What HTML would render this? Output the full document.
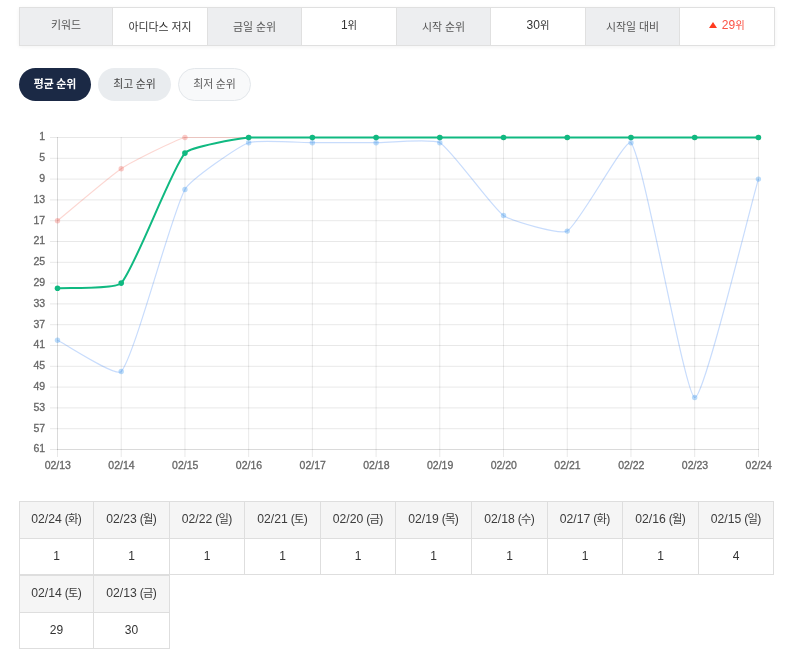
<!DOCTYPE html>
<html lang="ko">
<head>
<meta charset="utf-8">
<title>순위 추적</title>
<style>
*{box-sizing:border-box;margin:0;padding:0}
html,body{width:791px;height:655px;background:#fff;overflow:hidden}
body{font-family:"Liberation Sans","Noto Sans CJK KR",sans-serif;color:#333;position:relative}
.top{position:absolute;left:19px;top:7px;width:756px;height:39px;border:1px solid #e0e0e0;display:flex;box-shadow:0 1px 4px rgba(0,0,0,.05);background:#fff}
.top .c{flex:none;display:flex;align-items:center;justify-content:center;font-size:10.9px;color:#333;border-right:1px solid #e0e0e0;height:37px;white-space:nowrap;line-height:1}
.top .c:last-child{border-right:0}
.top .c span{position:relative;top:0.5px}
.top .c .n{font-size:12px;top:0}
.top .c.num{font-size:10.3px}
.top .c.num>span{top:-1px}
.top .c.h{background:#edeef0;color:#555}
.top .c.kw>span{top:-1.5px}
.top .c.up{color:#fb5143}
.top .c .tri{display:inline-block;width:0;height:0;border-left:4px solid transparent;border-right:4px solid transparent;border-bottom:6px solid #ff3b1f;margin-right:4.5px;top:-1px}
.tabs{position:absolute;left:0;top:68px}
.tab{position:absolute;top:0;height:33px;border-radius:17px;font-size:10.9px;line-height:1;word-spacing:-0.6px;display:flex;align-items:center;justify-content:center;white-space:nowrap}
.tab span{position:relative;top:0}
.tab.on{left:19px;width:72px;background:#1b2945;color:#fff;font-weight:bold}
.tab.b{left:98px;width:73px;background:#e9ecef;color:#444}
.tab.c{left:178px;width:73px;background:#f8f9fa;color:#5c5c5c;border:1px solid #e3e7eb}
.chart{position:absolute;left:0;top:110px}
.d{position:absolute;height:74px;border:1px solid #dedede;text-align:center;background:#fff;white-space:nowrap}
.dh{height:37px;line-height:35px;background:#f5f5f5;border-bottom:1px solid #dedede;font-size:12.2px;color:#3c3c3c;word-spacing:-0.3px}
.dh .k{font-size:11.3px;margin:0 -0.8px}
.dv{height:35px;line-height:35px;font-size:12px;color:#333}
</style>
</head>
<body>
<div class="top"><div class="c h kw" style="width:93px"><span>키워드</span></div><div class="c v" style="width:95px"><span>아디다스 저지</span></div><div class="c h" style="width:94px"><span>금일 순위</span></div><div class="c v num" style="width:95px"><span><span class="n">1</span>위</span></div><div class="c h" style="width:94px"><span>시작 순위</span></div><div class="c v num" style="width:95px"><span><span class="n">30</span>위</span></div><div class="c h" style="width:94px"><span>시작일 대비</span></div><div class="c v num up" style="width:94px"><span><span class="tri"></span><span class="n">29</span>위</span></div></div>
<div class="tabs"><div class="tab on"><span>평균 순위</span></div><div class="tab b"><span>최고 순위</span></div><div class="tab c"><span>최저 순위</span></div></div>
<svg class="chart" width="791" height="380" viewBox="0 110 791 380">
<g stroke="rgba(0,0,0,0.09)" stroke-width="1"><line x1="50" y1="137.50" x2="759.0" y2="137.50"/><line x1="50" y1="158.30" x2="759.0" y2="158.30"/><line x1="50" y1="179.10" x2="759.0" y2="179.10"/><line x1="50" y1="199.90" x2="759.0" y2="199.90"/><line x1="50" y1="220.70" x2="759.0" y2="220.70"/><line x1="50" y1="241.50" x2="759.0" y2="241.50"/><line x1="50" y1="262.30" x2="759.0" y2="262.30"/><line x1="50" y1="283.10" x2="759.0" y2="283.10"/><line x1="50" y1="303.90" x2="759.0" y2="303.90"/><line x1="50" y1="324.70" x2="759.0" y2="324.70"/><line x1="50" y1="345.50" x2="759.0" y2="345.50"/><line x1="50" y1="366.30" x2="759.0" y2="366.30"/><line x1="50" y1="387.10" x2="759.0" y2="387.10"/><line x1="50" y1="407.90" x2="759.0" y2="407.90"/><line x1="50" y1="428.70" x2="759.0" y2="428.70"/><line x1="50" y1="449.50" x2="759.0" y2="449.50"/><line x1="57.50" y1="137.0" x2="57.50" y2="457.0"/><line x1="121.22" y1="137.0" x2="121.22" y2="457.0"/><line x1="184.94" y1="137.0" x2="184.94" y2="457.0"/><line x1="248.65" y1="137.0" x2="248.65" y2="457.0"/><line x1="312.37" y1="137.0" x2="312.37" y2="457.0"/><line x1="376.09" y1="137.0" x2="376.09" y2="457.0"/><line x1="439.81" y1="137.0" x2="439.81" y2="457.0"/><line x1="503.53" y1="137.0" x2="503.53" y2="457.0"/><line x1="567.25" y1="137.0" x2="567.25" y2="457.0"/><line x1="630.96" y1="137.0" x2="630.96" y2="457.0"/><line x1="694.68" y1="137.0" x2="694.68" y2="457.0"/><line x1="758.50" y1="137.0" x2="758.50" y2="457.0"/><line stroke="rgba(0,0,0,0.06)" x1="57.0" y1="449.5" x2="759.0" y2="449.5"/><line stroke="rgba(0,0,0,0.06)" x1="57.5" y1="137.0" x2="57.5" y2="450.0"/></g>
<g><path d="M57.50,220.70 C67.06,212.90 110.96,175.40 121.22,168.70 C130.07,162.92 174.87,139.97 184.94,137.50 C193.98,137.50 239.10,137.50 248.65,137.50 C258.21,137.50 302.81,137.50 312.37,137.50 C321.93,137.50 366.53,137.50 376.09,137.50 C385.65,137.50 430.25,137.50 439.81,137.50 C449.37,137.50 493.97,137.50 503.53,137.50 C513.09,137.50 557.69,137.50 567.25,137.50 C576.80,137.50 621.41,137.50 630.96,137.50 C640.52,137.50 685.12,137.50 694.68,137.50 C704.24,137.50 748.84,137.50 758.40,137.50" fill="none" stroke="rgba(242,80,62,0.23)" stroke-width="1.15" stroke-linejoin="round" stroke-linecap="butt"/><circle cx="57.50" cy="220.70" r="2.7" fill="rgba(240,80,70,0.3)"/><circle cx="121.22" cy="168.70" r="2.7" fill="rgba(240,80,70,0.3)"/><circle cx="184.94" cy="137.50" r="2.7" fill="rgba(240,80,70,0.3)"/><circle cx="248.65" cy="137.50" r="2.7" fill="rgba(240,80,70,0.3)"/><circle cx="312.37" cy="137.50" r="2.7" fill="rgba(240,80,70,0.3)"/><circle cx="376.09" cy="137.50" r="2.7" fill="rgba(240,80,70,0.3)"/><circle cx="439.81" cy="137.50" r="2.7" fill="rgba(240,80,70,0.3)"/><circle cx="503.53" cy="137.50" r="2.7" fill="rgba(240,80,70,0.3)"/><circle cx="567.25" cy="137.50" r="2.7" fill="rgba(240,80,70,0.3)"/><circle cx="630.96" cy="137.50" r="2.7" fill="rgba(240,80,70,0.3)"/><circle cx="694.68" cy="137.50" r="2.7" fill="rgba(240,80,70,0.3)"/><circle cx="758.40" cy="137.50" r="2.7" fill="rgba(240,80,70,0.3)"/></g>
<g><path d="M57.50,340.30 C67.06,344.98 116.08,377.58 121.22,371.50 C135.19,354.96 171.38,213.84 184.94,189.50 C190.49,179.52 238.07,146.59 248.65,142.70 C257.19,139.57 302.81,142.70 312.37,142.70 C321.93,142.70 366.53,142.70 376.09,142.70 C385.65,142.70 432.22,138.36 439.81,142.70 C451.33,149.28 492.14,207.60 503.53,215.50 C511.25,220.86 560.06,235.20 567.25,231.10 C579.18,224.28 625.36,137.50 630.96,142.70 C644.47,160.34 684.44,394.57 694.68,397.50 C703.55,400.03 748.84,211.86 758.40,179.10" fill="none" stroke="rgba(59,130,246,0.28)" stroke-width="1.2" stroke-linejoin="round" stroke-linecap="butt"/><circle cx="57.50" cy="340.30" r="2.7" fill="rgba(45,145,240,0.33)"/><circle cx="121.22" cy="371.50" r="2.7" fill="rgba(45,145,240,0.33)"/><circle cx="184.94" cy="189.50" r="2.7" fill="rgba(45,145,240,0.33)"/><circle cx="248.65" cy="142.70" r="2.7" fill="rgba(45,145,240,0.33)"/><circle cx="312.37" cy="142.70" r="2.7" fill="rgba(45,145,240,0.33)"/><circle cx="376.09" cy="142.70" r="2.7" fill="rgba(45,145,240,0.33)"/><circle cx="439.81" cy="142.70" r="2.7" fill="rgba(45,145,240,0.33)"/><circle cx="503.53" cy="215.50" r="2.7" fill="rgba(45,145,240,0.33)"/><circle cx="567.25" cy="231.10" r="2.7" fill="rgba(45,145,240,0.33)"/><circle cx="630.96" cy="142.70" r="2.7" fill="rgba(45,145,240,0.33)"/><circle cx="694.68" cy="397.50" r="2.7" fill="rgba(45,145,240,0.33)"/><circle cx="758.40" cy="179.10" r="2.7" fill="rgba(45,145,240,0.33)"/></g>
<g><path d="M57.50,288.30 C67.06,287.52 115.36,289.31 121.22,283.10 C134.48,269.03 171.78,168.13 184.94,153.10 C190.90,146.29 238.96,138.69 248.65,137.50 C258.07,137.50 302.81,137.50 312.37,137.50 C321.93,137.50 366.53,137.50 376.09,137.50 C385.65,137.50 430.25,137.50 439.81,137.50 C449.37,137.50 493.97,137.50 503.53,137.50 C513.09,137.50 557.69,137.50 567.25,137.50 C576.80,137.50 621.41,137.50 630.96,137.50 C640.52,137.50 685.12,137.50 694.68,137.50 C704.24,137.50 748.84,137.50 758.40,137.50" fill="none" stroke="#10b981" stroke-width="2.0" stroke-linejoin="round" stroke-linecap="butt"/><circle cx="57.50" cy="288.30" r="2.8" fill="#10b981"/><circle cx="121.22" cy="283.10" r="2.8" fill="#10b981"/><circle cx="184.94" cy="153.10" r="2.8" fill="#10b981"/><circle cx="248.65" cy="137.50" r="2.8" fill="#10b981"/><circle cx="312.37" cy="137.50" r="2.8" fill="#10b981"/><circle cx="376.09" cy="137.50" r="2.8" fill="#10b981"/><circle cx="439.81" cy="137.50" r="2.8" fill="#10b981"/><circle cx="503.53" cy="137.50" r="2.8" fill="#10b981"/><circle cx="567.25" cy="137.50" r="2.8" fill="#10b981"/><circle cx="630.96" cy="137.50" r="2.8" fill="#10b981"/><circle cx="694.68" cy="137.50" r="2.8" fill="#10b981"/><circle cx="758.40" cy="137.50" r="2.8" fill="#10b981"/></g>
<g font-family="'Liberation Sans', Arial, sans-serif" font-size="10.5" fill="#666" stroke="#666" stroke-width="0.3"><text x="45.2" y="140.3" text-anchor="end">1</text><text x="45.2" y="161.1" text-anchor="end">5</text><text x="45.2" y="181.9" text-anchor="end">9</text><text x="45.2" y="202.7" text-anchor="end">13</text><text x="45.2" y="223.5" text-anchor="end">17</text><text x="45.2" y="244.3" text-anchor="end">21</text><text x="45.2" y="265.1" text-anchor="end">25</text><text x="45.2" y="285.9" text-anchor="end">29</text><text x="45.2" y="306.7" text-anchor="end">33</text><text x="45.2" y="327.5" text-anchor="end">37</text><text x="45.2" y="348.3" text-anchor="end">41</text><text x="45.2" y="369.1" text-anchor="end">45</text><text x="45.2" y="389.9" text-anchor="end">49</text><text x="45.2" y="410.7" text-anchor="end">53</text><text x="45.2" y="431.5" text-anchor="end">57</text><text x="45.2" y="452.3" text-anchor="end">61</text><text x="57.8" y="469" text-anchor="middle">02/13</text><text x="121.5" y="469" text-anchor="middle">02/14</text><text x="185.2" y="469" text-anchor="middle">02/15</text><text x="249.0" y="469" text-anchor="middle">02/16</text><text x="312.7" y="469" text-anchor="middle">02/17</text><text x="376.4" y="469" text-anchor="middle">02/18</text><text x="440.1" y="469" text-anchor="middle">02/19</text><text x="503.8" y="469" text-anchor="middle">02/20</text><text x="567.5" y="469" text-anchor="middle">02/21</text><text x="631.3" y="469" text-anchor="middle">02/22</text><text x="695.0" y="469" text-anchor="middle">02/23</text><text x="758.7" y="469" text-anchor="middle">02/24</text></g>
</svg>
<div class="daily"><div class="d" style="left:19px;top:501px;width:75px"><div class="dh">02/24 (<span class="k">화</span>)</div><div class="dv">1</div></div><div class="d" style="left:93px;top:501px;width:77px"><div class="dh">02/23 (<span class="k">월</span>)</div><div class="dv">1</div></div><div class="d" style="left:169px;top:501px;width:76px"><div class="dh">02/22 (<span class="k">일</span>)</div><div class="dv">1</div></div><div class="d" style="left:244px;top:501px;width:77px"><div class="dh">02/21 (<span class="k">토</span>)</div><div class="dv">1</div></div><div class="d" style="left:320px;top:501px;width:76px"><div class="dh">02/20 (<span class="k">금</span>)</div><div class="dv">1</div></div><div class="d" style="left:395px;top:501px;width:77px"><div class="dh">02/19 (<span class="k">목</span>)</div><div class="dv">1</div></div><div class="d" style="left:471px;top:501px;width:77px"><div class="dh">02/18 (<span class="k">수</span>)</div><div class="dv">1</div></div><div class="d" style="left:547px;top:501px;width:76px"><div class="dh">02/17 (<span class="k">화</span>)</div><div class="dv">1</div></div><div class="d" style="left:622px;top:501px;width:77px"><div class="dh">02/16 (<span class="k">월</span>)</div><div class="dv">1</div></div><div class="d" style="left:698px;top:501px;width:76px"><div class="dh">02/15 (<span class="k">일</span>)</div><div class="dv">4</div></div><div class="d" style="left:19px;top:575px;width:75px"><div class="dh">02/14 (<span class="k">토</span>)</div><div class="dv">29</div></div><div class="d" style="left:93px;top:575px;width:77px"><div class="dh">02/13 (<span class="k">금</span>)</div><div class="dv">30</div></div></div>
</body>
</html>
